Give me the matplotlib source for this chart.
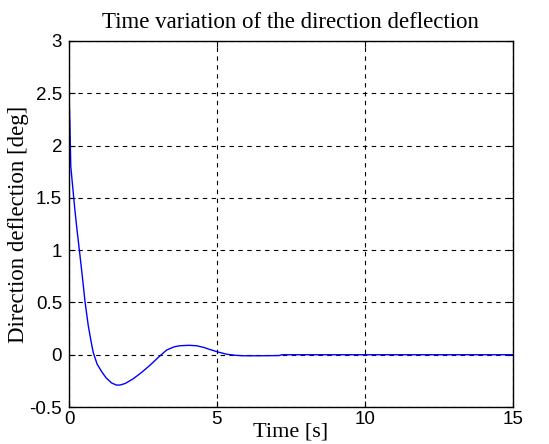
import matplotlib
matplotlib.use("Agg")
import matplotlib.pyplot as plt

time_s = [0.0, 0.0, 0.03, 0.06, 0.12, 0.2, 0.28, 0.35, 0.45, 0.54, 0.65, 0.75, 0.82, 0.95, 1.10, 1.25, 1.44, 1.60, 1.72, 1.90,
          2.17, 2.45, 2.74, 3.00, 3.30, 3.55, 3.75, 4.05, 4.31, 4.55, 4.76, 5.05, 5.33, 5.60, 5.88,
          6.45, 7.10, 7.20, 8.0, 10.0, 12.0, 15.0]
deflection = [2.5, 2.5, 2.2, 1.8, 1.62, 1.38, 1.17, 1.0, 0.75, 0.51, 0.28, 0.12, 0.02, -0.09, -0.16, -0.22, -0.27, -0.29, -0.29, -0.275,
              -0.23, -0.17, -0.10, -0.03, 0.045, 0.075, 0.086, 0.09, 0.086, 0.07, 0.05, 0.025, 0.005, -0.005, -0.01,
              -0.01, -0.008, 0.0, 0.0, 0.0, 0.0, 0.0]

x_ticks = [0, 5, 10, 15]
y_ticks = [-0.5, 0, 0.5, 1, 1.5, 2, 2.5, 3]
y_tick_labels = ["-0.5", "0", "0.5", "1", "1.5", "2", "2.5", "3"]

fig = plt.figure(figsize=(5.49, 4.44), dpi=100)
ax = fig.add_axes([0.1257, 0.0833, 0.934 - 0.1257, 0.9077 - 0.0833])
ax.plot(time_s, deflection, color="#0000ff", lw=1.0)
ax.set_xlim(0, 15)
ax.set_ylim(-0.5, 3)
ax.set_xticks(x_ticks)
ax.set_yticks(y_ticks)
ax.set_yticklabels(y_tick_labels)
ax.grid(True, color="black", linestyle=(0, (4, 4)), linewidth=0.8)
ax.tick_params(direction="in", top=True, right=True, length=4, labelsize=13.5)
ax.tick_params(axis="x", pad=3)
ax.tick_params(axis="y", pad=5)
for lbl in ax.get_xticklabels() + ax.get_yticklabels():
    lbl.set_family("Liberation Sans")
for s in ax.spines.values():
    s.set_linewidth(1.0)
ax.set_title("Time variation of the direction deflection", family="Liberation Serif", fontsize=16.5, pad=9)
ax.set_xlabel("Time [s]", family="Liberation Serif", fontsize=16, labelpad=-4)
ax.set_ylabel("Direction deflection [deg]", family="Liberation Serif", fontsize=16.5, labelpad=0)
fig.savefig("out.png", dpi=100)
